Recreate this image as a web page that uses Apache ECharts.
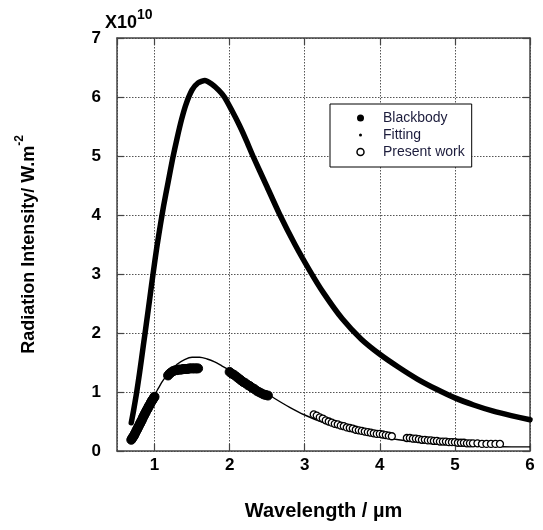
<!DOCTYPE html>
<html>
<head>
<meta charset="utf-8">
<script src="https://cdn.jsdelivr.net/npm/echarts@6/dist/echarts.min.js"></script>
<style>
  html, body { margin: 0; padding: 0; background: #fff; }
  #main { width: 543px; height: 530px; }
</style>
</head>
<body>
<div id="main"></div>
<script>
// 黑体辐射曲线 (x: 波长 µm, y: 强度 x10^10)
var bbX = [0.69,0.72,0.76,0.80,0.85,0.89,0.94,0.98,1.03,1.08,1.12,1.18,1.24,1.30,1.36,1.42,1.50,1.58,1.67,1.76,1.85,1.93,2.03,2.13,2.22,2.31,2.49,2.67,2.87,3.07,3.25,3.50,3.75,4.00,4.25,4.50,4.75,5.00,5.25,5.50,5.75,6.00];
var bbY = [0.48,0.68,0.98,1.32,1.78,2.15,2.62,3.00,3.45,3.85,4.15,4.55,4.95,5.30,5.62,5.88,6.12,6.24,6.28,6.22,6.12,6.00,5.77,5.52,5.27,5.00,4.50,4.00,3.50,3.05,2.68,2.24,1.90,1.64,1.42,1.22,1.05,0.90,0.78,0.68,0.60,0.53];

// 拟合曲线
var fitX = [0.70,0.75,0.80,0.85,0.90,0.95,1.00,1.05,1.10,1.15,1.20,1.30,1.40,1.50,1.60,1.70,1.80,1.90,2.00,2.20,2.40,2.60,2.80,3.00,3.25,3.50,3.75,4.00,4.25,4.50,4.75,5.00,5.25,5.50,5.75,6.00];
var fitY = [0.17,0.30,0.44,0.58,0.71,0.83,0.95,1.06,1.17,1.26,1.34,1.47,1.55,1.59,1.59,1.56,1.51,1.44,1.37,1.21,1.05,0.89,0.74,0.61,0.48,0.38,0.30,0.24,0.19,0.15,0.12,0.10,0.09,0.08,0.07,0.07];

// 本文数据 (Present work) —— 密集段
var pwDenseX = [0.69,0.70,0.71,0.72,0.73,0.74,0.75,0.76,0.77,0.78,0.79,0.80,0.81,0.82,0.83,0.84,0.85,0.86,0.87,0.88,0.89,0.90,0.91,0.92,0.93,0.94,0.95,0.96,0.97,0.98,0.99,1.00,
                1.18,1.20,1.22,1.24,1.26,1.28,1.30,1.32,1.34,1.36,1.38,1.40,1.42,1.44,1.46,1.48,1.50,1.52,1.54,1.56,1.58,
                2.00,2.03,2.06,2.09,2.12,2.15,2.18,2.21,2.24,2.27,2.30,2.33,2.36,2.39,2.42,2.45,2.48,2.51];
var pwDenseY = [0.19,0.21,0.23,0.25,0.27,0.30,0.32,0.35,0.37,0.40,0.42,0.45,0.47,0.50,0.52,0.55,0.58,0.60,0.63,0.65,0.68,0.70,0.72,0.75,0.77,0.79,0.82,0.84,0.86,0.88,0.90,0.92,
                1.28,1.31,1.33,1.35,1.36,1.37,1.37,1.38,1.38,1.38,1.39,1.39,1.39,1.39,1.40,1.40,1.40,1.40,1.40,1.40,1.40,
                1.34,1.31,1.29,1.26,1.23,1.20,1.17,1.15,1.12,1.10,1.07,1.05,1.02,1.00,0.98,0.96,0.95,0.94];
// 本文数据 —— 稀疏段
var pwSparseX = [3.12,3.16,3.20,3.24,3.28,3.32,3.36,3.40,3.44,3.48,3.52,3.56,3.60,3.64,3.68,3.72,3.76,3.80,3.84,3.88,3.92,3.96,4.00,4.04,4.08,4.12,4.16,
                 4.36,4.40,4.44,4.48,4.52,4.56,4.60,4.64,4.68,4.72,4.76,4.80,4.84,4.88,4.92,4.96,5.00,5.04,5.08,5.12,5.16,5.20,5.24,5.30,5.36,5.42,5.48,5.54,5.60];
var pwSparseY = [0.62,0.60,0.57,0.55,0.52,0.50,0.48,0.46,0.45,0.43,0.42,0.40,0.39,0.38,0.36,0.35,0.34,0.33,0.32,0.31,0.30,0.29,0.29,0.28,0.27,0.26,0.25,
                 0.22,0.22,0.21,0.21,0.20,0.19,0.19,0.18,0.18,0.17,0.17,0.16,0.16,0.16,0.15,0.15,0.15,0.14,0.14,0.14,0.13,0.13,0.13,0.13,0.12,0.12,0.12,0.12,0.12];

var yTicks = [0, 1, 2, 3, 4, 5, 6, 7];

function pairs(xs, ys) {
    var arr = [];
    for (var i = 0; i < xs.length; i++) {
        arr.push([xs[i], ys[i]]);
    }
    return arr;
}

var FONT = 'Liberation Sans, Arial, sans-serif';
var myChart = echarts.init(document.getElementById('main'));

var gridLine = { show: true, lineStyle: { color: '#555', width: 1, type: [1.5, 1.5] } };
var frame = { show: true, onZero: false, lineStyle: { color: '#444', width: 1.5 } };
var tick = { show: true, inside: true, length: 7, lineStyle: { color: '#444', width: 1.2 } };

var option = {
    animation: false,
    backgroundColor: '#fff',
    title: {
        text: '{a|X10}{b|10}',
        left: 100,
        top: 3,
        textStyle: {
            rich: {
                a: { fontFamily: FONT, fontSize: 18, fontWeight: 'bold', color: '#000', lineHeight: 24, verticalAlign: 'bottom' },
                b: { fontFamily: FONT, fontSize: 14, fontWeight: 'bold', color: '#000', lineHeight: 14, verticalAlign: 'top' }
            }
        }
    },
    legend: {
        orient: 'vertical',
        left: 330,
        top: 104,
        padding: [7, 7, 8, 25],
        itemGap: 3,
        itemWidth: 7,
        itemHeight: 7,
        backgroundColor: '#fff',
        borderColor: '#000',
        borderWidth: 1,
        textStyle: { fontFamily: FONT, fontSize: 14, color: '#1c1c3c', padding: [0, 0, 0, 14] },
        data: [
            { name: 'Blackbody', icon: 'circle' },
            { name: 'Fitting', icon: 'circle', itemStyle: { color: '#000', borderColor: '#fff', borderWidth: 4 } },
            { name: 'Present work', icon: 'circle', itemStyle: { color: '#fff', borderColor: '#000', borderWidth: 1.5 } }
        ]
    },
    grid: { left: 117, right: 13, top: 38, bottom: 79 },
    xAxis: [
        {
            type: 'value',
            min: 0.5,
            max: 6,
            name: 'Wavelength / µm',
            nameLocation: 'middle',
            nameGap: 50,
            nameTextStyle: { fontFamily: FONT, fontSize: 20, fontWeight: 'bold', color: '#000' },
            axisLine: frame,
            axisTick: tick,
            axisLabel: { showMinLabel: false, margin: 6, fontFamily: FONT, fontSize: 17, fontWeight: 'bold', color: '#000' },
            splitLine: gridLine
        },
        {
            type: 'value',
            position: 'top',
            min: 0.5,
            max: 6,
            axisLine: frame,
            axisTick: tick,
            axisLabel: { show: false },
            splitLine: { show: false }
        }
    ],
    yAxis: [
        {
            type: 'value',
            min: yTicks[0],
            max: yTicks[yTicks.length - 1],
            interval: 1,
            name: '{n|Radiation Intensity/ W.m}{s|-2}',
            nameLocation: 'middle',
            nameGap: 79,
            nameTextStyle: {
                rich: {
                    n: { fontFamily: FONT, fontSize: 18, fontWeight: 'bold', color: '#000', lineHeight: 24, verticalAlign: 'bottom' },
                    s: { fontFamily: FONT, fontSize: 12, fontWeight: 'bold', color: '#000', lineHeight: 14, verticalAlign: 'top' }
                }
            },
            axisLine: frame,
            axisTick: tick,
            axisLabel: { margin: 16, fontFamily: FONT, fontSize: 17, fontWeight: 'bold', color: '#000' },
            splitLine: gridLine
        },
        {
            type: 'value',
            position: 'right',
            min: 0,
            max: 7,
            interval: 1,
            axisLine: frame,
            axisTick: tick,
            axisLabel: { show: false },
            splitLine: { show: false }
        }
    ],
    series: [
        {
            name: 'Blackbody',
            type: 'line',
            data: pairs(bbX, bbY),
            showSymbol: false,
            symbol: 'circle',
            smooth: 0.2,
            itemStyle: { color: '#000' },
            lineStyle: { color: '#000', width: 5.5, cap: 'round', join: 'round' },
            z: 3
        },
        {
            name: 'Fitting',
            type: 'line',
            data: pairs(fitX, fitY),
            showSymbol: false,
            symbol: 'circle',
            smooth: 0.3,
            itemStyle: { color: '#000' },
            lineStyle: { color: '#000', width: 1.4 },
            z: 3
        },
        {
            name: 'Present work',
            type: 'scatter',
            data: pairs(pwDenseX, pwDenseY),
            symbol: 'circle',
            symbolSize: 9,
            itemStyle: { color: '#000', borderColor: '#000', borderWidth: 1, opacity: 1 },
            z: 4
        },
        {
            name: 'Present work',
            type: 'scatter',
            data: pairs(pwSparseX, pwSparseY),
            symbol: 'circle',
            symbolSize: 7,
            itemStyle: { color: '#fff', borderColor: '#000', borderWidth: 1.3, opacity: 1 },
            z: 4
        }
    ]
};

myChart.setOption(option);
</script>
</body>
</html>
